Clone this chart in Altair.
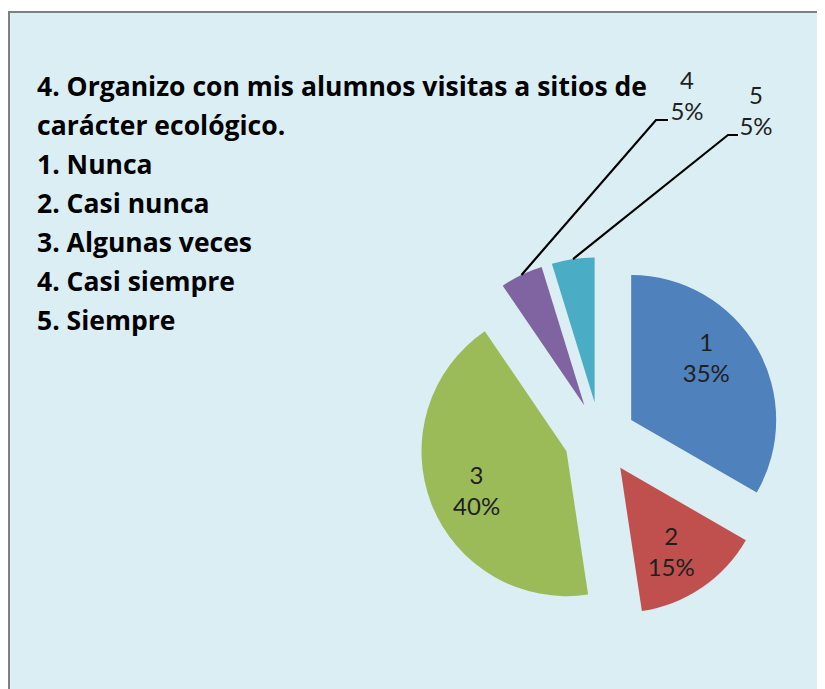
import math
import altair as alt
import pandas as pd

# ---- data ----
categories = ["1", "2", "3", "4", "5"]
counts = [7, 3, 9, 1, 1]            # slice sizes as drawn
pct_labels = ["35%", "15%", "40%", "5%", "5%"]   # data-label texts
colors = ["#4F81BD", "#C0504D", "#9BBB59", "#8064A2", "#4BACC6"]
title_lines = [
    "4. Organizo con mis alumnos visitas a sitios de",
    " carácter ecológico.",
    "1. Nunca",
    "2. Casi nunca",
    "3. Algunas veces",
    "4. Casi siempre",
    "5. Siempre",
]
callout_cats = ["4", "5"]

# ---- layout (chart pixel coordinates) ----
W, H = 809, 681
CX, CY = 592, 430
R = 145
EXPLODE = 36
LABEL_R = 98
LINE_H = 31
FONT = "Lato"
TITLE_FONT = "Open Sans"
label_nudge_deg = {"1": -10, "2": 3, "3": -2}
# elbow / end of leader lines and first-line centre of the outside labels
callout_layout = {
    "4": {"elbow": (648, 112), "end": (660, 112), "label": (679, 74)},
    "5": {"elbow": (720, 127), "end": (730, 127), "label": (748, 89)},
}

df = pd.DataFrame({
    "cat": categories,
    "count": counts,
    "pct": pct_labels,
    "idx": list(range(len(categories))),
})
df["label"] = [
    (c + "\n" + p) if c not in callout_cats else ""
    for c, p in zip(categories, pct_labels)
]

nudge_expr = " : ".join(
    [f"datum.cat == '{k}' ? {v}" for k, v in label_nudge_deg.items()] + ["0"]
)

pie_base = (
    alt.Chart(df)
    .transform_joinaggregate(total="sum(count)")
    .transform_window(cum="sum(count)", sort=[alt.SortField("idx")])
    .transform_calculate(
        mid="(datum.cum - datum.count / 2) / datum.total * 2 * PI",
        ux="sin(datum.mid)",
        uy="-cos(datum.mid)",
    )
    .transform_calculate(la=f"datum.mid + ({nudge_expr}) * PI / 180")
)

xenc = alt.X("ux:Q", scale=alt.Scale(domain=[-1, 1], range=[CX - EXPLODE, CX + EXPLODE]), axis=None)
yenc = alt.Y("uy:Q", scale=alt.Scale(domain=[-1, 1], range=[CY - EXPLODE, CY + EXPLODE]), axis=None)

arcs = pie_base.mark_arc(outerRadius=R, stroke=None).encode(
    x=xenc, y=yenc,
    theta=alt.Theta("count:Q", stack=True),
    order=alt.Order("idx:Q"),
    color=alt.Color("cat:N", scale=alt.Scale(domain=categories, range=colors), legend=None),
)

inner_labels = pie_base.mark_text(
    radius=LABEL_R, fontSize=24, font=FONT, lineBreak="\n", lineHeight=LINE_H,
    color="#1F1F1F", align="center", baseline="middle", dy=-13,
).encode(
    x=xenc, y=yenc, theta=alt.Theta("la:Q", scale=None), text="label:N",
)

# ---- leader lines for the small slices ----
total = sum(counts)
rows = []
lab_rows = []
cum = 0
for c, n, p in zip(categories, counts, pct_labels):
    mid = (cum + n / 2) / total * 2 * math.pi
    cum += n
    if c in callout_cats:
        ox = CX + EXPLODE * math.sin(mid)
        oy = CY - EXPLODE * math.cos(mid)
        sx = ox + R * math.sin(mid)
        sy = oy - R * math.cos(mid)
        lay = callout_layout[c]
        rows.append({"cat": c, "k": 0, "px": sx, "py": sy})
        rows.append({"cat": c, "k": 1, "px": lay["elbow"][0], "py": lay["elbow"][1]})
        rows.append({"cat": c, "k": 2, "px": lay["end"][0], "py": lay["end"][1]})
        lab_rows.append({"cat": c, "txt": c + "\n" + p, "px": lay["label"][0], "py": lay["label"][1]})

leaders = alt.Chart(pd.DataFrame(rows)).mark_line(color="#000000", strokeWidth=2.2).encode(
    x=alt.X("px:Q", scale=None, axis=None),
    y=alt.Y("py:Q", scale=None, axis=None),
    detail="cat:N",
    order="k:Q",
)

outer_labels = alt.Chart(pd.DataFrame(lab_rows)).mark_text(
    fontSize=24, font=FONT, lineBreak="\n", lineHeight=LINE_H,
    color="#1F1F1F", align="center", baseline="middle",
).encode(
    x=alt.X("px:Q", scale=None, axis=None),
    y=alt.Y("py:Q", scale=None, axis=None),
    text="txt:N",
)

# ---- background panel and title text ----
panel = alt.Chart(pd.DataFrame({"a": [0]})).mark_rect(
    fill="#DBEEF3", stroke="#808080", strokeWidth=2,
).encode(
    x=alt.value(1), x2=alt.value(W + 20), y=alt.value(4), y2=alt.value(H + 20),
)

title = alt.Chart(pd.DataFrame({"a": [0]})).mark_text(
    font=TITLE_FONT, fontSize=26.5, fontWeight="bold", color="#000000",
    align="left", baseline="top", lineBreak="\n", lineHeight=39,
).encode(
    x=alt.value(29), y=alt.value(67), text=alt.value("\n".join(title_lines)),
)

chart = (
    alt.layer(panel, title, arcs, inner_labels, leaders, outer_labels)
    .resolve_scale(x="independent", y="independent")
    .properties(width=W, height=H, padding=0, autosize="none", background="#FFFFFF")
    .configure_view(stroke=None)
)

chart.save("out.html", embed_options={"renderer": "svg", "actions": False})
